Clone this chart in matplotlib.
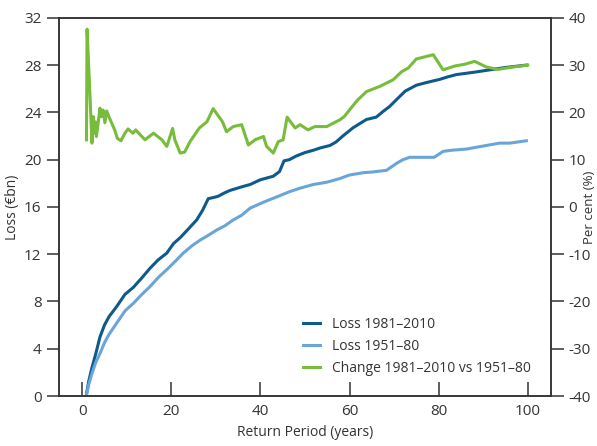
import matplotlib
matplotlib.use("Agg")
import matplotlib.pyplot as plt

plt.rcParams["font.family"] = ["Open Sans", "DejaVu Sans"]
plt.rcParams["axes.unicode_minus"] = False

# Loss 1981-2010 (EUR bn)
rp_81 = [0.9, 1.5, 2.2, 3, 4, 5, 6, 7.8, 9.6, 11.5, 13.4, 15.2, 17, 19, 20.5, 22,
         23.5, 25.7, 27, 28.3, 29.5, 30.5, 32, 33.2, 35.8, 37.7, 40, 42.9, 44.3,
         45.3, 46.5, 48, 50, 51.9, 53.5, 55.6, 57, 58.5, 60.8, 63.8, 66, 67.6, 69,
         70.6, 72.5, 75, 77, 80.3, 82, 84, 88, 91.5, 95, 99.7]
loss_81 = [0, 1.3, 2.4, 3.5, 5.0, 6.0, 6.7, 7.6, 8.6, 9.2, 10.0, 10.8, 11.5, 12.1,
           12.9, 13.4, 14.0, 14.9, 15.7, 16.7, 16.8, 16.9, 17.2, 17.4, 17.7, 17.9,
           18.3, 18.6, 19.0, 19.9, 20.0, 20.3, 20.6, 20.8, 21.0, 21.2, 21.5, 22.0,
           22.7, 23.4, 23.6, 24.1, 24.5, 25.1, 25.8, 26.3, 26.5, 26.8, 27.0, 27.2,
           27.4, 27.6, 27.8, 28.0]

# Loss 1951-80 (EUR bn)
rp_51 = [0.9, 1.5, 2.2, 3, 4, 5, 6, 7.8, 9.6, 11.5, 13.4, 15.2, 17, 19, 20.9, 22.7,
         24.6, 26.5, 28.3, 30.2, 32, 33.9, 35.8, 37.7, 40.7, 42, 44, 46.6, 49, 51.9,
         55, 57.8, 60, 63.1, 65, 68.3, 70.6, 72, 73.5, 78, 79, 81, 83, 86.3, 90.7,
         93.7, 96, 99.7]
loss_51 = [0, 1.0, 1.9, 2.8, 3.6, 4.5, 5.2, 6.2, 7.2, 7.85, 8.6, 9.25, 10.0, 10.7,
           11.4, 12.1, 12.7, 13.2, 13.6, 14.05, 14.4, 14.9, 15.3, 15.9, 16.4, 16.6,
           16.9, 17.3, 17.6, 17.9, 18.1, 18.4, 18.7, 18.9, 18.95, 19.1, 19.7, 20.0,
           20.2, 20.2, 20.2, 20.7, 20.8, 20.9, 21.2, 21.4, 21.4, 21.6]

# Change 1981-2010 vs 1951-80 (per cent)
rp_chg = [0.97, 1.1, 1.5, 1.7, 1.95, 2.2, 2.5, 2.7, 3.0, 3.2, 3.6, 4.0, 4.3, 4.7,
          5.1, 5.5, 6.0, 6.6, 7.3, 7.9, 8.7, 9.6, 10.3, 11.4, 12, 14.1, 16, 17.9,
          19, 20.3, 20.8, 22, 23, 24.2, 26.3, 28.0, 29.4, 31.5, 32.4, 33.9, 35.8,
          37.3, 38.8, 40.7, 41.4, 42.9, 44, 45.1, 46, 47.8, 48.9, 50.7, 52.2, 54.9,
          56.3, 57.8, 58.8, 61.6, 63.8, 66.8, 69.8, 71.7, 73.2, 75, 78.8, 81, 83.6,
          85.9, 88.1, 90.7, 93.3, 96.7, 100]
chg = [14.2, 37.6, 29.0, 24.8, 19.1, 13.5, 19.1, 15.6, 18.0, 14.9, 17.8, 20.9, 19.1,
       20.5, 17.8, 20.3, 19.1, 17.8, 16.3, 14.5, 14.0, 15.6, 16.5, 15.6, 16.3, 14.2,
       15.6, 14.2, 12.8, 16.6, 14.2, 11.4, 11.6, 13.8, 16.7, 18.0, 20.8, 18.0, 15.9,
       17.0, 17.4, 13.1, 14.2, 14.9, 12.8, 11.4, 13.8, 14.2, 19.0, 16.7, 17.4, 16.3,
       17.0, 17.0, 17.7, 18.4, 19.1, 22.4, 24.4, 25.5, 26.9, 28.6, 29.4, 31.3, 32.2,
       29.0, 29.8, 30.2, 30.8, 29.6, 29.1, 29.6, 30.0]

DARK = "#0d5a8c"
LIGHT = "#6aa5d9"
GREEN = "#77bc3a"
AXC = "#333333"

fig = plt.figure(figsize=(5.97, 4.46), dpi=100)
ax = fig.add_axes([0.0988, 0.112, 0.824, 0.848])
ax2 = ax.twinx()

l1, = ax.plot(rp_81, loss_81, color=DARK, lw=2.2, label="Loss 1981\u20132010")
l2, = ax.plot(rp_51, loss_51, color=LIGHT, lw=2.2, label="Loss 1951\u201380")
l3, = ax2.plot(rp_chg, chg, color=GREEN, lw=2.2,
               label="Change 1981\u20132010 vs 1951\u201380")

ax.set_xlim(-5.2, 105.2)
ax.set_ylim(0, 32)
ax.set_yticks(range(0, 33, 4))
ax.set_xticks(range(0, 101, 20))
ax2.set_ylim(-40, 40)
ax2.set_yticks(range(-40, 41, 10))

for a in (ax, ax2):
    for s in a.spines.values():
        s.set_color(AXC)
        s.set_linewidth(1.1)
ax.tick_params(axis="x", direction="in", length=10, width=1.1, color=AXC,
               labelsize=11, labelcolor=AXC, pad=6)
ax.tick_params(axis="y", direction="out", length=9, width=1.1, color=AXC,
               labelsize=11, labelcolor=AXC)
ax2.tick_params(axis="y", direction="out", length=9, width=1.1, color=AXC,
                labelsize=11, labelcolor=AXC)

ax.set_xlabel("Return Period (years)", fontsize=10, color=AXC, labelpad=4)
ax.set_ylabel("Loss (\u20acbn)", fontsize=10, color=AXC, labelpad=3)
ax2.set_ylabel("Per cent (%)", fontsize=9.5, color=AXC, va="center")
ax2.yaxis.set_label_coords(1.078, 0.5)

ax.legend(handles=[l1, l2, l3], loc="lower right", bbox_to_anchor=(0.985, 0.02),
          frameon=False, fontsize=10, handlelength=1.2, handletextpad=0.9,
          labelspacing=0.5, labelcolor=AXC)

fig.savefig("out.png", dpi=100)
